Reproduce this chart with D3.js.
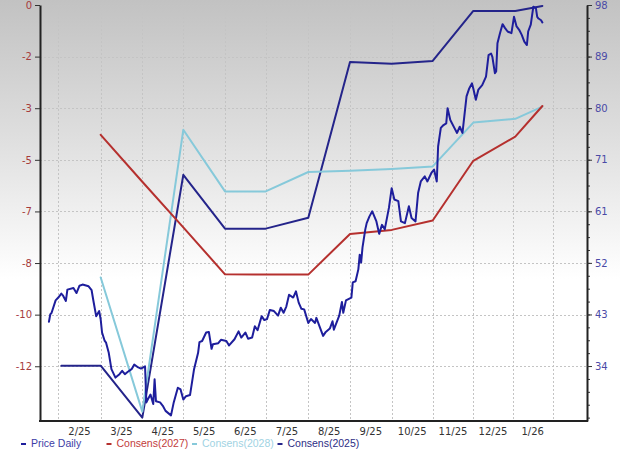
<!DOCTYPE html>
<html><head><meta charset="utf-8">
<script src="https://cdn.jsdelivr.net/npm/d3@7"></script>
<style>
html,body{margin:0;padding:0;background:#fff;}
svg{display:block;}
</style></head><body>
<svg id="chart" width="620" height="450"></svg>
<script>
// ---------------- DATA ----------------
const monthStarts = ["2025-01-01","2025-02-01","2025-03-01","2025-04-01","2025-05-01","2025-06-01","2025-07-01",
  "2025-08-01","2025-09-01","2025-10-01","2025-11-01","2025-12-01","2026-01-01","2026-02-01","2026-03-01"];
const monthLabels = ["2/25","3/25","4/25","5/25","6/25","7/25","8/25","9/25","10/25","11/25","12/25","1/26"];

const leftTickValues = [0,-1.65,-3.3,-4.95,-6.6,-8.25,-9.9,-11.55];
const leftTickLabels = ["0","-2","-3","-5","-7","-8","-10","-12"];
const rightTickValues = [98,88.85,79.7,70.55,61.4,52.25,43.1,33.95];
const rightTickLabels = ["98","89","80","71","61","52","43","34"];

const seriesNames = ["Price Daily","Consens(2027)","Consens(2028)","Consens(2025)"];

const priceDaily = [
["2025-01-25",41.8],["2025-01-26",43.1],["2025-01-27",43.4],["2025-01-30",45.6],["2025-02-01",46.1],
["2025-02-03",46.8],["2025-02-04",46.5],["2025-02-06",45.5],["2025-02-07",47.5],["2025-02-11",47.8],
["2025-02-13",46.9],["2025-02-15",48.2],["2025-02-17",48.4],["2025-02-21",48.1],["2025-02-23",47.4],
["2025-02-24",45.8],["2025-02-26",42.8],["2025-02-28",43.7],["2025-03-01",42.2],["2025-03-02",39.9],
["2025-03-04",38.4],["2025-03-05",38.1],["2025-03-07",36.3],["2025-03-09",33.4],["2025-03-12",31.9],
["2025-03-15",32.5],["2025-03-17",33.1],["2025-03-19",32.5],["2025-03-21",32.9],["2025-03-24",33.4],
["2025-03-26",34.2],["2025-03-29",33.7],["2025-03-31",33.5],["2025-04-03",33.9],["2025-04-04",27.5],
["2025-04-05",28.0],["2025-04-07",28.9],["2025-04-09",27.2],["2025-04-10",31.6],["2025-04-11",27.7],
["2025-04-14",27.5],["2025-04-16",26.9],["2025-04-18",26.0],["2025-04-22",25.2],["2025-04-24",27.5],
["2025-04-27",30.1],["2025-04-29",29.8],["2025-05-01",28.0],["2025-05-03",28.6],["2025-05-06",28.8],
["2025-05-09",33.4],["2025-05-12",36.3],["2025-05-13",38.2],["2025-05-15",38.4],["2025-05-18",39.9],
["2025-05-20",40.0],["2025-05-22",37.0],["2025-05-23",37.8],["2025-05-27",38.0],["2025-05-29",38.6],
["2025-06-02",38.4],["2025-06-04",37.6],["2025-06-08",38.7],["2025-06-11",40.1],["2025-06-13",39.0],
["2025-06-16",39.9],["2025-06-18",38.8],["2025-06-21",39.0],["2025-06-23",41.0],["2025-06-25",40.3],
["2025-06-28",42.8],["2025-06-30",42.1],["2025-07-02",42.3],["2025-07-04",43.9],["2025-07-07",43.7],
["2025-07-10",42.9],["2025-07-12",44.3],["2025-07-14",43.4],["2025-07-16",44.5],["2025-07-18",46.6],
["2025-07-21",46.1],["2025-07-23",47.2],["2025-07-25",45.2],["2025-07-27",44.1],["2025-07-29",44.0],
["2025-08-01",41.6],["2025-08-03",42.3],["2025-08-06",41.6],["2025-08-07",42.5],["2025-08-09",41.2],
["2025-08-12",39.3],["2025-08-14",40.0],["2025-08-17",40.6],["2025-08-19",41.9],["2025-08-20",40.4],
["2025-08-24",42.9],["2025-08-26",45.3],["2025-08-27",43.4],["2025-08-29",45.6],["2025-09-02",46.1],
["2025-09-03",48.8],["2025-09-05",49.0],["2025-09-07",51.1],["2025-09-08",53.7],["2025-09-09",52.3],
["2025-09-10",55.0],["2025-09-12",58.2],["2025-09-13",59.3],["2025-09-15",60.5],["2025-09-17",61.4],
["2025-09-20",59.6],["2025-09-22",57.4],["2025-09-24",59.0],["2025-09-26",58.2],["2025-09-29",62.0],
["2025-10-01",65.5],["2025-10-03",63.5],["2025-10-06",63.2],["2025-10-08",59.6],["2025-10-11",59.3],
["2025-10-14",62.3],["2025-10-16",60.2],["2025-10-19",59.6],["2025-10-21",64.7],["2025-10-23",66.7],
["2025-10-26",67.6],["2025-10-28",66.7],["2025-10-31",68.2],["2025-11-02",68.8],["2025-11-04",66.7],
["2025-11-05",72.9],["2025-11-07",76.2],["2025-11-09",76.7],["2025-11-11",77.0],["2025-11-12",79.7],
["2025-11-14",77.6],["2025-11-17",76.2],["2025-11-19",75.3],["2025-11-21",76.4],["2025-11-23",75.3],
["2025-11-26",81.8],["2025-11-28",83.2],["2025-11-30",84.1],["2025-12-01",83.2],["2025-12-03",81.2],
["2025-12-05",83.0],["2025-12-08",83.8],["2025-12-11",85.3],["2025-12-13",89.1],["2025-12-15",89.4],
["2025-12-16",88.8],["2025-12-18",85.9],["2025-12-19",86.2],["2025-12-20",91.2],["2025-12-22",93.0],
["2025-12-24",94.6],["2025-12-26",93.9],["2025-12-28",93.3],["2025-12-31",93.0],["2026-01-02",95.9],
["2026-01-04",94.2],["2026-01-06",93.6],["2026-01-08",92.7],["2026-01-10",91.5],["2026-01-12",90.9],
["2026-01-13",93.3],["2026-01-15",94.5],["2026-01-17",97.7],["2026-01-19",97.4],["2026-01-20",95.9],
["2026-01-21",95.6],["2026-01-23",95.3],["2026-01-24",94.9]
];

const consens2027 = [
["2025-03-01",-4.15],["2025-04-01",-5.65],["2025-05-01",-7.11],["2025-06-01",-8.61],["2025-07-01",-8.62],
["2025-08-01",-8.62],["2025-09-01",-7.32],["2025-10-01",-7.19],["2025-11-01",-6.89],["2025-12-01",-4.98],
["2026-01-03",-4.21],["2026-01-24",-3.23]
];
const consens2028 = [
["2025-03-01",-8.71],["2025-04-01",-13.0],["2025-05-01",-3.99],["2025-06-01",-5.96],["2025-07-01",-5.96],
["2025-08-01",-5.34],["2025-09-01",-5.30],["2025-10-01",-5.24],["2025-11-01",-5.16],["2025-12-01",-3.76],
["2026-01-03",-3.64],["2026-01-24",-3.25]
];
const consens2025 = [
["2025-02-03",-11.53],["2025-03-01",-11.53],["2025-04-01",-13.19],["2025-05-01",-5.43],["2025-06-01",-7.15],
["2025-07-01",-7.15],["2025-08-01",-6.80],["2025-09-01",-1.82],["2025-10-01",-1.88],["2025-11-01",-1.79],
["2025-12-01",-0.19],["2026-01-03",-0.19],["2026-01-24",-0.03]
];

// ---------------- LAYOUT ----------------
const W = 620, H = 450;
const P = {left:40, right:587, top:5, bottom:421};
const monthPos = [16.8,58.3,100.7,142.3,183.3,225,265.7,308.3,350,391.7,432.7,473.3,512.7,552.7,592.7];
const colors = {price:"#1e1e9c", c2027:"#b5302e", c2028:"#86c9da", c2025:"#24248a"};
const legendText = ["#3d3da6","#c23b3b","#9fd3e3","#2d2d85"];
const legendMark = [colors.price, colors.c2027, colors.c2028, colors.c2025];

const parse = d3.timeParse("%Y-%m-%d");
const svg = d3.select("#chart");

const x = d3.scaleTime().domain(monthStarts.map(parse)).range(monthPos);
const yL = d3.scaleLinear().domain([-13.3, 0]).range([P.bottom, P.top]);
const yR = d3.scaleLinear().domain([24.2, 98]).range([P.bottom, P.top]);

// background gradient
const defs = svg.append("defs");
const g = defs.append("linearGradient").attr("id","bg").attr("x1",0).attr("y1",0).attr("x2",0).attr("y2",1);
g.append("stop").attr("offset","0%").attr("stop-color","#c2c2c2");
g.append("stop").attr("offset","30%").attr("stop-color","#dedede");
g.append("stop").attr("offset","62%").attr("stop-color","#ffffff");
g.append("stop").attr("offset","100%").attr("stop-color","#ffffff");
svg.append("rect").attr("width",W).attr("height",H).attr("fill","url(#bg)");

defs.append("clipPath").attr("id","clip").append("rect")
  .attr("x",P.left).attr("y",0).attr("width",P.right-P.left).attr("height",P.bottom);

// gridlines
const grid = svg.append("g").attr("stroke","#c4c4c4").attr("stroke-width",1).attr("stroke-dasharray","2,2");
grid.selectAll("line.h").data(leftTickValues).join("line")
  .attr("x1",P.left).attr("x2",P.right)
  .attr("y1",d=>Math.round(yL(d))+0.5).attr("y2",d=>Math.round(yL(d))+0.5);
const gridMonths = monthStarts.slice(1,14).map(parse);
grid.selectAll("line.v").data(gridMonths).join("line")
  .attr("y1",P.top).attr("y2",P.bottom)
  .attr("x1",d=>Math.round(x(d))+0.5).attr("x2",d=>Math.round(x(d))+0.5);

// lines
const lines = svg.append("g").attr("clip-path","url(#clip)").attr("fill","none")
  .attr("stroke-width",2).attr("stroke-linejoin","round").attr("stroke-linecap","round");
const lineL = d3.line().x(d=>x(parse(d[0]))).y(d=>yL(d[1]));
const lineR = d3.line().x(d=>x(parse(d[0]))).y(d=>yR(d[1]));
lines.append("path").attr("d",lineL(consens2025)).attr("stroke",colors.c2025);
lines.append("path").attr("d",lineL(consens2028)).attr("stroke",colors.c2028);
lines.append("path").attr("d",lineL(consens2027)).attr("stroke",colors.c2027);
lines.append("path").attr("d",lineR(priceDaily)).attr("stroke",colors.price);

// left axis
const axL = svg.append("g").attr("transform",`translate(${P.left},0)`)
  .call(d3.axisLeft(yL).tickValues(leftTickValues).tickFormat((d,i)=>leftTickLabels[i])
    .tickSize(5).tickSizeOuter(0).tickPadding(3));
axL.select(".domain").attr("stroke","#222").attr("stroke-width",2);
axL.selectAll(".tick line").attr("stroke","#333");
axL.selectAll("text").attr("fill","#a63c3c").style("font-family","'DejaVu Sans', Verdana, sans-serif").style("font-size","10px");

// right axis: minor + major
const minorVals = d3.range(98, 24.2, -9.15/4);
const axRm = svg.append("g").attr("transform",`translate(${P.right},0)`)
  .call(d3.axisRight(yR).tickValues(minorVals).tickFormat("").tickSize(3).tickSizeOuter(0));
axRm.select(".domain").remove();
axRm.selectAll(".tick line").attr("stroke","#333");
const axR = svg.append("g").attr("transform",`translate(${P.right},0)`)
  .call(d3.axisRight(yR).tickValues(rightTickValues).tickFormat((d,i)=>rightTickLabels[i])
    .tickSize(5).tickSizeOuter(0).tickPadding(3));
axR.select(".domain").attr("stroke","#222").attr("stroke-width",2);
axR.selectAll(".tick line").attr("stroke","#333");
axR.selectAll("text").attr("fill","#4a4aa6").style("font-family","'DejaVu Sans', Verdana, sans-serif").style("font-size","10px");

// bottom axis line
svg.append("line").attr("x1",P.left-1).attr("x2",P.right+1).attr("y1",P.bottom).attr("y2",P.bottom)
  .attr("stroke","#222").attr("stroke-width",2);

// month labels centered in each month
svg.append("g").selectAll("text").data(monthLabels).join("text")
  .attr("x",(d,i)=>(x(parse(monthStarts[i+1]))+x(parse(monthStarts[i+2])))/2)
  .attr("y",435)
  .attr("text-anchor","middle")
  .attr("fill","#333")
  .style("font-family","'DejaVu Sans', Verdana, sans-serif").style("font-size","10px")
  .text(d=>d);

// legend
const leg = svg.append("g").selectAll("g").data(seriesNames).join("g")
  .attr("transform",(d,i)=>`translate(${21 + i*85.5},0)`);
leg.append("rect").attr("x",0).attr("y",443).attr("width",5).attr("height",2).attr("fill",(d,i)=>legendMark[i]);
leg.append("text").attr("x",10).attr("y",447)
  .attr("fill",(d,i)=>legendText[i])
  .style("font-family","'Liberation Sans', Arial, sans-serif").style("font-size","10.5px")
  .text(d=>d);
</script>
</body></html>
